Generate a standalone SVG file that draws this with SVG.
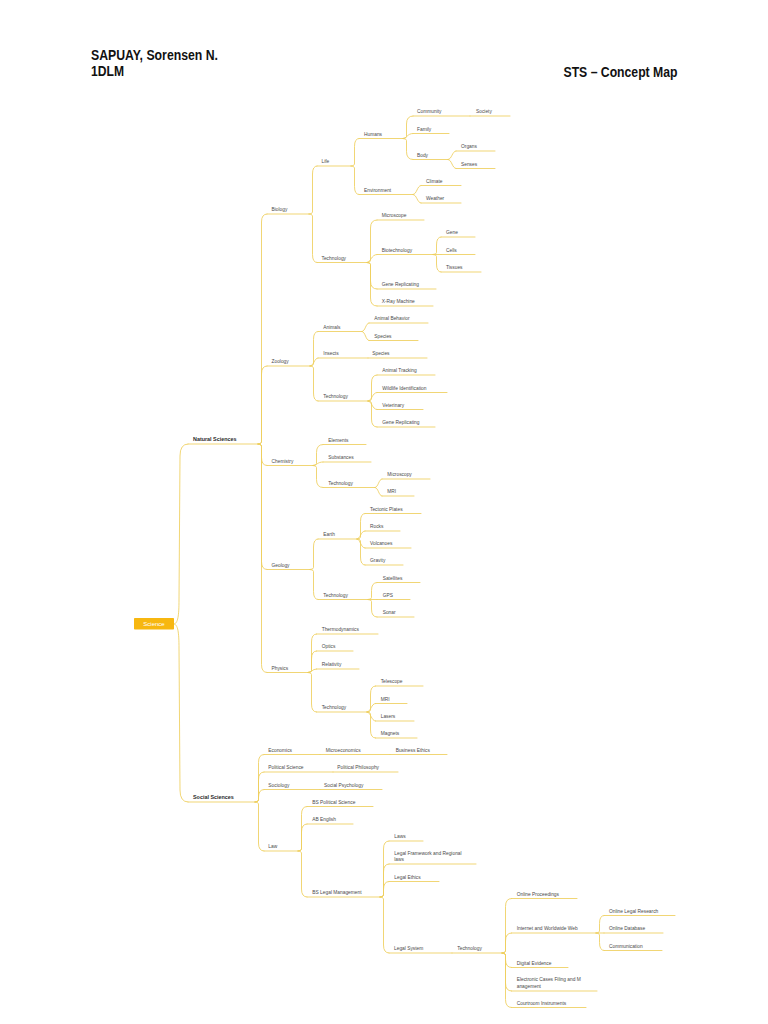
<svg xmlns="http://www.w3.org/2000/svg" width="768" height="1024" viewBox="0 0 768 1024">
<style>
.c,.ul{fill:none;stroke:#EECF5C;stroke-width:0.85;stroke-linecap:round}
.t{font-family:"Liberation Sans",Arial,sans-serif;font-size:4.85px;fill:#4a4a4a}
.b{font-family:"Liberation Sans",Arial,sans-serif;font-size:5.4px;font-weight:bold;fill:#2a2a2a}
.h{font-family:"Liberation Sans",Arial,sans-serif;font-size:14px;font-weight:bold;fill:#111}
</style>
<rect width="768" height="1024" fill="#fff"/>
<g id="header">
<text class="h" x="91" y="60" textLength="127" lengthAdjust="spacingAndGlyphs">SAPUAY, Sorensen N.</text>
<text class="h" x="91" y="76" textLength="33" lengthAdjust="spacingAndGlyphs">1DLM</text>
<text class="h" x="563.5" y="76.5" textLength="114" lengthAdjust="spacingAndGlyphs">STS – Concept Map</text>
</g>
<g id="connectors">
<path class="c" d="M174 624 C178 624 179 615 179 600 L180 456 Q180 444 188 444"/>
<path class="c" d="M174 624 C178 624 179 633 179 648 L180 790 Q180 802 188 802"/>
<path class="c" d="M258 444 Q261.5 444 261.5 442 L261.5 222 Q261.5 214 267 214"/>
<path class="c" d="M258 444 Q261.5 444 261.5 442 L261.5 374 Q261.5 366 267 366"/>
<path class="c" d="M258 444 Q261.5 444 261.5 446 L261.5 457.5 Q261.5 465.5 267 465.5"/>
<path class="c" d="M258 444 Q261.5 444 261.5 446 L261.5 561.5 Q261.5 569.5 267 569.5"/>
<path class="c" d="M258 444 Q261.5 444 261.5 446 L261.5 664.5 Q261.5 672.5 267 672.5"/>
<path class="c" d="M309 214 Q312.5 214 312.5 212 L312.5 174 Q312.5 166 317 166"/>
<path class="c" d="M309 214 Q312.5 214 312.5 216 L312.5 254.5 Q312.5 262.5 317 262.5"/>
<path class="c" d="M351 166 Q354.5 166 354.5 164 L354.5 146.5 Q354.5 138.5 359 138.5"/>
<path class="c" d="M351 166 Q354.5 166 354.5 168 L354.5 186.5 Q354.5 194.5 359 194.5"/>
<path class="c" d="M403 138.5 Q406.5 138.5 406.5 136.5 L406.5 124 Q406.5 116 413 116"/>
<path class="c" d="M403 138.5 C407 138.5 407 133.5 413 133.5"/>
<path class="c" d="M403 138.5 Q406.5 138.5 406.5 140.5 L406.5 151.5 Q406.5 159.5 413 159.5"/>
<path class="c" d="M448 159.5 C452 159.5 452 151 456 151"/>
<path class="c" d="M448 159.5 C452 159.5 452 168.5 456 168.5"/>
<path class="c" d="M413 194.5 C417 194.5 417 185.5 421 185.5"/>
<path class="c" d="M413 194.5 C417 194.5 417 203 421 203"/>
<path class="c" d="M367 262.5 Q370.5 262.5 370.5 260.5 L370.5 228 Q370.5 220 377 220"/>
<path class="c" d="M367 262.5 C371 262.5 371 254.5 377 254.5"/>
<path class="c" d="M367 262.5 Q370.5 262.5 370.5 264.5 L370.5 281 Q370.5 289 377 289"/>
<path class="c" d="M367 262.5 Q370.5 262.5 370.5 264.5 L370.5 298 Q370.5 306 377 306"/>
<path class="c" d="M433 254.5 Q436.5 254.5 436.5 252.5 L436.5 245 Q436.5 237 441 237"/>
<path class="c" d="M433 254.5 L441 254.5"/>
<path class="c" d="M433 254.5 Q436.5 254.5 436.5 256.5 L436.5 264 Q436.5 272 441 272"/>
<path class="c" d="M310 366 Q313.5 366 313.5 364 L313.5 339.5 Q313.5 331.5 318 331.5"/>
<path class="c" d="M310 366 C314 366 314 358 318 358"/>
<path class="c" d="M310 366 Q313.5 366 313.5 368 L313.5 393 Q313.5 401 318 401"/>
<path class="c" d="M362 331.5 C365.5 331.5 365.5 323 369 323"/>
<path class="c" d="M362 331.5 C365.5 331.5 365.5 340.5 369 340.5"/>
<path class="c" d="M368 401 Q371.5 401 371.5 399 L371.5 383 Q371.5 375 377 375"/>
<path class="c" d="M368 401 C372 401 372 392.5 377 392.5"/>
<path class="c" d="M368 401 C372 401 372 409.5 377 409.5"/>
<path class="c" d="M368 401 Q371.5 401 371.5 403 L371.5 419 Q371.5 427 377 427"/>
<path class="c" d="M313 465.5 Q316.5 465.5 316.5 463.5 L316.5 452.5 Q316.5 444.5 323 444.5"/>
<path class="c" d="M313 465.5 C317 465.5 317 462 323 462"/>
<path class="c" d="M313 465.5 Q316.5 465.5 316.5 467.5 L316.5 479.5 Q316.5 487.5 323 487.5"/>
<path class="c" d="M375 487.5 C378.5 487.5 378.5 479 382 479"/>
<path class="c" d="M375 487.5 C378.5 487.5 378.5 496 382 496"/>
<path class="c" d="M310 569.5 Q313.5 569.5 313.5 567.5 L313.5 547 Q313.5 539 318 539"/>
<path class="c" d="M310 569.5 Q313.5 569.5 313.5 571.5 L313.5 591.5 Q313.5 599.5 318 599.5"/>
<path class="c" d="M357 539 Q360.5 539 360.5 537 L360.5 521.5 Q360.5 513.5 365 513.5"/>
<path class="c" d="M357 539 C360.5 539 360.5 531 365 531"/>
<path class="c" d="M357 539 C360.5 539 360.5 548 365 548"/>
<path class="c" d="M357 539 Q360.5 539 360.5 541 L360.5 557 Q360.5 565 365 565"/>
<path class="c" d="M368 599.5 Q371.5 599.5 371.5 597.5 L371.5 590.5 Q371.5 582.5 377 582.5"/>
<path class="c" d="M368 599.5 L377 599.5"/>
<path class="c" d="M368 599.5 Q371.5 599.5 371.5 601.5 L371.5 609 Q371.5 617 377 617"/>
<path class="c" d="M308 672.5 Q311.5 672.5 311.5 670.5 L311.5 642 Q311.5 634 316.5 634"/>
<path class="c" d="M308 672.5 Q311.5 672.5 311.5 670.5 L311.5 659 Q311.5 651 316.5 651"/>
<path class="c" d="M308 672.5 C312 672.5 312 669 316.5 669"/>
<path class="c" d="M308 672.5 Q311.5 672.5 311.5 674.5 L311.5 704 Q311.5 712 316.5 712"/>
<path class="c" d="M367 712 Q370.5 712 370.5 710 L370.5 694 Q370.5 686 375.5 686"/>
<path class="c" d="M367 712 C371 712 371 703.5 375.5 703.5"/>
<path class="c" d="M367 712 C371 712 371 721 375.5 721"/>
<path class="c" d="M367 712 Q370.5 712 370.5 714 L370.5 730 Q370.5 738 375.5 738"/>
<path class="c" d="M255 802 Q258.5 802 258.5 800 L258.5 762.5 Q258.5 754.5 264 754.5"/>
<path class="c" d="M255 802 Q258.5 802 258.5 800 L258.5 780 Q258.5 772 264 772"/>
<path class="c" d="M255 802 Q258.5 802 258.5 800 L258.5 797.5 Q258.5 789.5 264 789.5"/>
<path class="c" d="M255 802 Q258.5 802 258.5 804 L258.5 843 Q258.5 851 264 851"/>
<path class="c" d="M298 851 Q301.5 851 301.5 849 L301.5 814.5 Q301.5 806.5 307 806.5"/>
<path class="c" d="M298 851 Q301.5 851 301.5 849 L301.5 832 Q301.5 824 307 824"/>
<path class="c" d="M298 851 Q301.5 851 301.5 853 L301.5 889 Q301.5 897 307 897"/>
<path class="c" d="M380 897 Q383.5 897 383.5 895 L383.5 849 Q383.5 841 389 841"/>
<path class="c" d="M380 897 Q383.5 897 383.5 895 L383.5 872 Q383.5 864 389 864"/>
<path class="c" d="M380 897 Q383.5 897 383.5 895 L383.5 889.5 Q383.5 881.5 389 881.5"/>
<path class="c" d="M380 897 Q383.5 897 383.5 899 L383.5 945 Q383.5 953 389 953"/>
<path class="c" d="M502 953 Q505.5 953 505.5 951 L505.5 906.5 Q505.5 898.5 511.5 898.5"/>
<path class="c" d="M502 953 Q505.5 953 505.5 951 L505.5 941 Q505.5 933 511.5 933"/>
<path class="c" d="M502 953 Q505.5 953 505.5 955 L505.5 959.5 Q505.5 967.5 511.5 967.5"/>
<path class="c" d="M502 953 Q505.5 953 505.5 955 L505.5 983 Q505.5 991 511.5 991"/>
<path class="c" d="M502 953 Q505.5 953 505.5 955 L505.5 999.5 Q505.5 1007.5 511.5 1007.5"/>
<path class="c" d="M596 933 Q599.5 933 599.5 931 L599.5 923.5 Q599.5 915.5 604 915.5"/>
<path class="c" d="M596 933 L604 933"/>
<path class="c" d="M596 933 Q599.5 933 599.5 935 L599.5 942.5 Q599.5 950.5 604 950.5"/>
</g>
<g id="n-science"><rect x="134" y="618" width="40" height="11.5" rx="0.8" fill="#F7B710"/><text x="154" y="626" text-anchor="middle" font-family="Liberation Sans, Arial, sans-serif" font-size="6" fill="#fff">Science</text></g>
<g id="n-natural"><text class="b" x="193" y="441.2">Natural Sciences</text><path class="ul" d="M188 444H258"/></g>
<g id="n-social"><text class="b" x="193" y="799.4">Social Sciences</text><path class="ul" d="M188 802H255"/></g>
<g id="n-biology"><text class="t" x="271.5" y="211.4">Biology</text><path class="ul" d="M267 214H309"/></g>
<g id="n-zoology"><text class="t" x="271.5" y="363.4">Zoology</text><path class="ul" d="M267 366H310"/></g>
<g id="n-chemistry"><text class="t" x="271.5" y="462.9">Chemistry</text><path class="ul" d="M267 465.5H313"/></g>
<g id="n-geology"><text class="t" x="271.5" y="566.9">Geology</text><path class="ul" d="M267 569.5H310"/></g>
<g id="n-physics"><text class="t" x="271.5" y="669.9">Physics</text><path class="ul" d="M267 672.5H308"/></g>
<g id="n-life"><text class="t" x="321.5" y="163.4">Life</text><path class="ul" d="M317 166H351"/></g>
<g id="n-bio-tech"><text class="t" x="321.5" y="259.9">Technology</text><path class="ul" d="M317 262.5H367"/></g>
<g id="n-humans"><text class="t" x="364" y="135.9">Humans</text><path class="ul" d="M359 138.5H403"/></g>
<g id="n-environment"><text class="t" x="364" y="191.9">Environment</text><path class="ul" d="M359 194.5H413"/></g>
<g id="n-community"><text class="t" x="417" y="113.4">Community</text><path class="ul" d="M413 116H470"/></g>
<g id="n-society"><text class="t" x="476" y="113.4">Society</text><path class="ul" d="M470 116H510"/></g>
<g id="n-family"><text class="t" x="417" y="130.9">Family</text><path class="ul" d="M413 133.5H449"/></g>
<g id="n-body"><text class="t" x="417" y="156.9">Body</text><path class="ul" d="M413 159.5H448"/></g>
<g id="n-organs"><text class="t" x="461" y="148.4">Organs</text><path class="ul" d="M456 151H495"/></g>
<g id="n-senses"><text class="t" x="461" y="165.9">Senses</text><path class="ul" d="M456 168.5H495"/></g>
<g id="n-climate"><text class="t" x="426" y="182.9">Climate</text><path class="ul" d="M421 185.5H461"/></g>
<g id="n-weather"><text class="t" x="426" y="200.4">Weather</text><path class="ul" d="M421 203H461"/></g>
<g id="n-microscope"><text class="t" x="381.7" y="217.4">Microscope</text><path class="ul" d="M377 220H424"/></g>
<g id="n-biotechnology"><text class="t" x="381.7" y="251.9">Biotechnology</text><path class="ul" d="M377 254.5H433"/></g>
<g id="n-gene"><text class="t" x="446" y="234.4">Gene</text><path class="ul" d="M441 237H475"/></g>
<g id="n-cells"><text class="t" x="446" y="251.9">Cells</text><path class="ul" d="M441 254.5H475"/></g>
<g id="n-tissues"><text class="t" x="446" y="269.4">Tissues</text><path class="ul" d="M441 272H481"/></g>
<g id="n-gene-rep-1"><text class="t" x="381.7" y="286.4">Gene Replicating</text><path class="ul" d="M377 289H436"/></g>
<g id="n-xray"><text class="t" x="381.7" y="303.4">X-Ray Machine</text><path class="ul" d="M377 306H433"/></g>
<g id="n-animals"><text class="t" x="323.3" y="328.9">Animals</text><path class="ul" d="M318 331.5H362"/></g>
<g id="n-animal-behavior"><text class="t" x="374.3" y="320.4">Animal Behavior</text><path class="ul" d="M369 323H428"/></g>
<g id="n-species-1"><text class="t" x="374.3" y="337.9">Species</text><path class="ul" d="M369 340.5H418"/></g>
<g id="n-insects"><text class="t" x="323.3" y="355.4">Insects</text><path class="ul" d="M318 358H368"/></g>
<g id="n-species-2"><text class="t" x="372.3" y="355.4">Species</text><path class="ul" d="M368 358H427"/></g>
<g id="n-zoo-tech"><text class="t" x="323.3" y="398.4">Technology</text><path class="ul" d="M318 401H368"/></g>
<g id="n-animal-tracking"><text class="t" x="382.3" y="372.4">Animal Tracking</text><path class="ul" d="M377 375H435"/></g>
<g id="n-wildlife"><text class="t" x="382.3" y="389.9">Wildlife Identification</text><path class="ul" d="M377 392.5H447"/></g>
<g id="n-veterinary"><text class="t" x="382.3" y="406.9">Veterinary</text><path class="ul" d="M377 409.5H423"/></g>
<g id="n-gene-rep-2"><text class="t" x="382.3" y="424.4">Gene Replicating</text><path class="ul" d="M377 427H435"/></g>
<g id="n-elements"><text class="t" x="328.3" y="441.9">Elements</text><path class="ul" d="M323 444.5H366"/></g>
<g id="n-substances"><text class="t" x="328.3" y="459.4">Substances</text><path class="ul" d="M323 462H371"/></g>
<g id="n-chem-tech"><text class="t" x="328.3" y="484.9">Technology</text><path class="ul" d="M323 487.5H375"/></g>
<g id="n-microscopy"><text class="t" x="387.3" y="476.4">Microscopy</text><path class="ul" d="M382 479H430"/></g>
<g id="n-mri-1"><text class="t" x="387.3" y="493.4">MRI</text><path class="ul" d="M382 496H414"/></g>
<g id="n-earth"><text class="t" x="323.3" y="536.4">Earth</text><path class="ul" d="M318 539H357"/></g>
<g id="n-tectonic"><text class="t" x="370" y="510.9">Tectonic Plates</text><path class="ul" d="M365 513.5H421"/></g>
<g id="n-rocks"><text class="t" x="370" y="528.4">Rocks</text><path class="ul" d="M365 531H400"/></g>
<g id="n-volcanoes"><text class="t" x="370" y="545.4">Volcanoes</text><path class="ul" d="M365 548H411"/></g>
<g id="n-gravity"><text class="t" x="370" y="562.4">Gravity</text><path class="ul" d="M365 565H403"/></g>
<g id="n-geo-tech"><text class="t" x="323.3" y="596.9">Technology</text><path class="ul" d="M318 599.5H368"/></g>
<g id="n-satellites"><text class="t" x="382.7" y="579.9">Satellites</text><path class="ul" d="M377 582.5H420"/></g>
<g id="n-gps"><text class="t" x="382.7" y="596.9">GPS</text><path class="ul" d="M377 599.5H410"/></g>
<g id="n-sonar"><text class="t" x="382.7" y="614.4">Sonar</text><path class="ul" d="M377 617H414"/></g>
<g id="n-thermo"><text class="t" x="321.7" y="631.4">Thermodynamics</text><path class="ul" d="M316.5 634H378"/></g>
<g id="n-optics"><text class="t" x="321.7" y="648.4">Optics</text><path class="ul" d="M316.5 651H353"/></g>
<g id="n-relativity"><text class="t" x="321.7" y="666.4">Relativity</text><path class="ul" d="M316.5 669H359"/></g>
<g id="n-phys-tech"><text class="t" x="321.7" y="709.4">Technology</text><path class="ul" d="M316.5 712H367"/></g>
<g id="n-telescope"><text class="t" x="380.7" y="683.4">Telescope</text><path class="ul" d="M375.5 686H423"/></g>
<g id="n-mri-2"><text class="t" x="380.7" y="700.9">MRI</text><path class="ul" d="M375.5 703.5H407"/></g>
<g id="n-lasers"><text class="t" x="380.7" y="718.4">Lasers</text><path class="ul" d="M375.5 721H414"/></g>
<g id="n-magnets"><text class="t" x="380.7" y="735.4">Magnets</text><path class="ul" d="M375.5 738H417"/></g>
<g id="n-economics"><text class="t" x="268.3" y="751.9">Economics</text><path class="ul" d="M264 754.5H320"/></g>
<g id="n-micro"><text class="t" x="325.7" y="751.9">Microeconomics</text><path class="ul" d="M320 754.5H390"/></g>
<g id="n-business-ethics"><text class="t" x="395.7" y="751.9">Business Ethics</text><path class="ul" d="M390 754.5H447"/></g>
<g id="n-polsci"><text class="t" x="268.3" y="769.4">Political Science</text><path class="ul" d="M264 772H333"/></g>
<g id="n-polphil"><text class="t" x="337.3" y="769.4">Political Philosophy</text><path class="ul" d="M333 772H398"/></g>
<g id="n-sociology"><text class="t" x="268.3" y="786.9">Sociology</text><path class="ul" d="M264 789.5H320"/></g>
<g id="n-socpsych"><text class="t" x="324" y="786.9">Social Psychology</text><path class="ul" d="M320 789.5H382"/></g>
<g id="n-law"><text class="t" x="268.3" y="848.4">Law</text><path class="ul" d="M264 851H298"/></g>
<g id="n-bs-polsci"><text class="t" x="312.3" y="803.9">BS Political Science</text><path class="ul" d="M307 806.5H373"/></g>
<g id="n-ab-english"><text class="t" x="312.3" y="821.4">AB English</text><path class="ul" d="M307 824H353"/></g>
<g id="n-bs-legal"><text class="t" x="312.3" y="894.4">BS Legal Management</text><path class="ul" d="M307 897H380"/></g>
<g id="n-laws"><text class="t" x="394.3" y="838.4">Laws</text><path class="ul" d="M389 841H423"/></g>
<g id="n-legal-framework"><text class="t" x="394.3" y="854.7">Legal Framework and Regional</text><text class="t" x="394.3" y="860.5">laws</text><path class="ul" d="M389 864H476"/></g>
<g id="n-legal-ethics"><text class="t" x="394.3" y="878.9">Legal Ethics</text><path class="ul" d="M389 881.5H439"/></g>
<g id="n-legal-system"><text class="t" x="394" y="950.4">Legal System</text><path class="ul" d="M389 953H452"/></g>
<g id="n-legal-tech"><text class="t" x="457.3" y="950.4">Technology</text><path class="ul" d="M452 953H502"/></g>
<g id="n-online-proc"><text class="t" x="516.7" y="895.9">Online Proceedings</text><path class="ul" d="M511.5 898.5H577"/></g>
<g id="n-internet"><text class="t" x="516.7" y="930.4">Internet and Worldwide Web</text><path class="ul" d="M511.5 933H596"/></g>
<g id="n-online-research"><text class="t" x="609" y="912.9">Online Legal Research</text><path class="ul" d="M604 915.5H675"/></g>
<g id="n-online-db"><text class="t" x="609" y="930.4">Online Database</text><path class="ul" d="M604 933H663"/></g>
<g id="n-communication"><text class="t" x="609" y="947.9">Communication</text><path class="ul" d="M604 950.5H662"/></g>
<g id="n-digital-evidence"><text class="t" x="516.7" y="964.9">Digital Evidence</text><path class="ul" d="M511.5 967.5H568"/></g>
<g id="n-electronic"><text class="t" x="516.7" y="980.8">Electronic Cases Filing and M</text><text class="t" x="516.7" y="987.5">anagement</text><path class="ul" d="M511.5 991H597"/></g>
<g id="n-courtroom"><text class="t" x="516.7" y="1004.9">Courtroom Instruments</text><path class="ul" d="M511.5 1007.5H586"/></g>
</svg>
